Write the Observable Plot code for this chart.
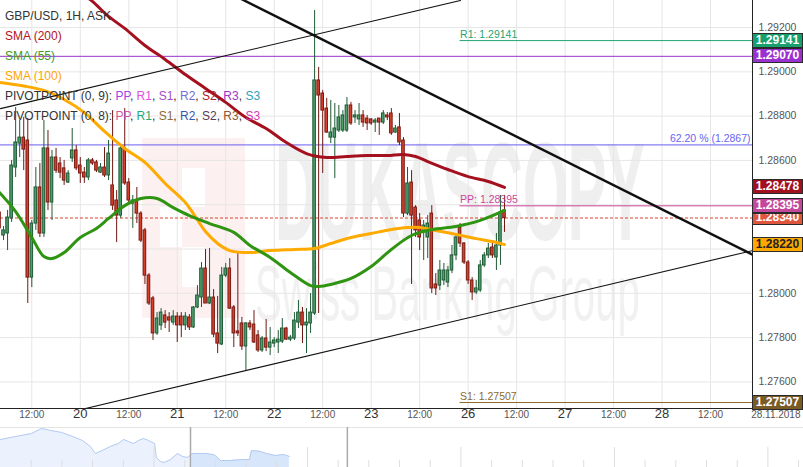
<!DOCTYPE html>
<html><head><meta charset="utf-8">
<script src="https://cdn.jsdelivr.net/npm/d3@7"></script>
<script src="https://cdn.jsdelivr.net/npm/@observablehq/plot@0.6"></script>
<style>
body{margin:0;background:#fff;font-family:"Liberation Sans",Arial,sans-serif;}
#wrap{position:relative;width:803px;height:467px;overflow:hidden;background:#fff;}
#wm,#main,#nav,#legend,#boxes{position:absolute;left:0;top:0;}
#wm{z-index:0}#main{z-index:1}#nav{z-index:1;top:425px}#legend{z-index:3}#boxes{z-index:4}
.lg{position:absolute;left:5px;font-size:12px;line-height:14px;white-space:nowrap;color:#333;}
.bx{position:absolute;left:752px;width:49px;height:13px;border:1px solid #2a2a2a;font-weight:bold;font-size:12px;line-height:13px;text-align:center;}
</style></head>
<body><div id="wrap">
<svg id="wm" width="803" height="425">
  <rect x="142" y="138" width="103" height="180" fill="#fcf0f0"/>
  <rect x="182" y="168" width="23" height="39" fill="#fff"/>
  <rect x="160" y="207" width="22" height="40" fill="#fff"/>
  <rect x="182" y="247" width="23" height="40" fill="#fff"/>
  <text x="275" y="240" font-size="140" font-weight="bold" fill="#efefef" textLength="370" lengthAdjust="spacingAndGlyphs" font-family="Liberation Sans, Arial">DUKASCOPY</text>
  <text x="255" y="320" font-size="78" fill="#f1f1f1" textLength="385" lengthAdjust="spacingAndGlyphs" font-family="Liberation Sans, Arial">Swiss Banking Group</text>
</svg>
<div id="main"></div><div id="nav"></div><div id="legend"></div><div id="boxes"></div>
</div>
<script>
// ---------- data ----------
const candleHour = d3.range(4, 130); // trading-hour index (0 = 19.11 00:00, weekend removed)
const openP = [1.28365,1.28261,1.28270,1.28338,1.28568,1.28676,1.28703,1.28690,1.28071,1.28315,
1.28478,1.28270,1.28654,1.28410,1.28613,1.28586,1.28564,1.28500,1.28609,1.28645,
1.28577,1.28545,1.28523,1.28600,1.28591,1.28545,1.28568,1.28532,1.28487,1.28419,
1.28351,1.28654,1.28500,1.28405,1.28419,1.28360,1.28284,1.28080,1.27977,1.27819,
1.27855,1.27900,1.27891,1.27868,1.27895,1.27895,1.27855,1.27891,1.27846,1.27936,
1.27981,1.28112,1.27954,1.27981,1.27819,1.27769,1.28080,1.28112,1.27936,1.27828,
1.27864,1.27760,1.27864,1.27859,1.27810,1.27742,1.27796,1.27755,1.27773,1.27778,
1.27782,1.27841,1.27791,1.27796,1.27868,1.27913,1.27855,1.27864,1.27909,1.28961,
1.28902,1.28834,1.28703,1.28703,1.28735,1.28735,1.28735,1.28848,1.28794,1.28785,
1.28803,1.28789,1.28785,1.28771,1.28789,1.28771,1.28803,1.28812,1.28726,1.28749,
1.28690,1.28360,1.28500,1.28387,1.28329,1.28275,1.28252,1.28360,1.28040,1.28035,
1.28058,1.28049,1.28103,1.28171,1.28297,1.28225,1.28139,1.28058,1.28004,1.28013,
1.28126,1.28171,1.28207,1.28162,1.28216,1.28374];
const closeP = [1.28293,1.28284,1.28342,1.28577,1.28681,1.28703,1.28649,1.28071,1.28315,1.28478,
1.28270,1.28654,1.28410,1.28613,1.28554,1.28545,1.28509,1.28541,1.28645,1.28564,
1.28541,1.28523,1.28600,1.28586,1.28554,1.28568,1.28532,1.28631,1.28396,1.28351,
1.28654,1.28496,1.28419,1.28419,1.28360,1.28238,1.28080,1.27954,1.27819,1.27886,
1.27913,1.27868,1.27877,1.27895,1.27855,1.27855,1.27895,1.27846,1.27936,1.27990,
1.28112,1.27954,1.27981,1.27814,1.27773,1.28080,1.28112,1.27931,1.27819,1.27819,
1.27760,1.27864,1.27846,1.27778,1.27742,1.27796,1.27755,1.27778,1.27787,1.27791,
1.27841,1.27791,1.27800,1.27877,1.27913,1.27855,1.27868,1.27913,1.28961,1.28893,
1.28825,1.28726,1.28726,1.28744,1.28794,1.28803,1.28848,1.28767,1.28803,1.28803,
1.28771,1.28767,1.28767,1.28780,1.28771,1.28812,1.28794,1.28722,1.28744,1.28681,
1.28360,1.28496,1.28351,1.28284,1.28252,1.28306,1.28315,1.28022,1.28022,1.28103,
1.28103,1.28103,1.28171,1.28252,1.28225,1.28139,1.28058,1.28004,1.28022,1.28126,
1.28171,1.28202,1.28171,1.28216,1.28365,1.28340];
const highP = [1.28396,1.28302,1.28374,1.28600,1.28839,1.28780,1.28794,1.28789,1.28329,1.28568,
1.28586,1.28780,1.28735,1.28645,1.28654,1.28613,1.28600,1.28554,1.28744,1.28667,
1.28613,1.28568,1.28609,1.28609,1.28600,1.28586,1.28658,1.28690,1.28825,1.28464,
1.28667,1.28834,1.28518,1.28442,1.28478,1.28369,1.28293,1.28089,1.27986,1.27913,
1.27931,1.27922,1.27913,1.27922,1.27913,1.27913,1.27913,1.27904,1.27940,1.28035,
1.28139,1.28198,1.28202,1.28017,1.27986,1.28117,1.28135,1.28157,1.27945,1.28180,
1.27891,1.27868,1.27877,1.27922,1.27832,1.27805,1.27882,1.27846,1.27800,1.27832,
1.27886,1.27846,1.27810,1.27913,1.27968,1.27936,1.27931,1.27999,1.29277,1.29020,
1.28916,1.28880,1.28871,1.28857,1.28848,1.28825,1.28884,1.28862,1.28825,1.28857,
1.28825,1.28803,1.28789,1.28789,1.28789,1.28825,1.28816,1.28834,1.28758,1.28812,
1.28703,1.28568,1.28554,1.28396,1.28360,1.28329,1.28351,1.28396,1.28089,1.28148,
1.28135,1.28121,1.28216,1.28270,1.28315,1.28229,1.28148,1.28071,1.28058,1.28148,
1.28184,1.28225,1.28238,1.28270,1.28442,1.28442];
const lowP = [1.28275,1.28238,1.28193,1.28320,1.28523,1.28613,1.28554,1.27954,1.28026,1.28284,
1.28252,1.28252,1.28374,1.28329,1.28541,1.28518,1.28487,1.28496,1.28591,1.28554,
1.28496,1.28496,1.28509,1.28577,1.28545,1.28541,1.28523,1.28509,1.28374,1.28229,
1.28338,1.28487,1.28405,1.28293,1.28315,1.28229,1.28040,1.27945,1.27787,1.27810,
1.27832,1.27841,1.27823,1.27855,1.27778,1.27800,1.27832,1.27832,1.27841,1.27931,
1.27936,1.27954,1.27949,1.27800,1.27728,1.27764,1.28071,1.27927,1.27755,1.27805,
1.27742,1.27651,1.27832,1.27773,1.27733,1.27733,1.27737,1.27719,1.27755,1.27728,
1.27773,1.27787,1.27782,1.27787,1.27841,1.27773,1.27728,1.27819,1.27900,1.27909,
1.28541,1.28722,1.28676,1.28518,1.28726,1.28726,1.28726,1.28758,1.28767,1.28758,
1.28749,1.28735,1.28758,1.28726,1.28713,1.28762,1.28780,1.28713,1.28722,1.28667,
1.28342,1.28351,1.28040,1.28252,1.28193,1.28148,1.28157,1.27999,1.27990,1.28013,
1.28035,1.28026,1.28089,1.28148,1.28207,1.28130,1.28040,1.27968,1.27995,1.28004,
1.28117,1.28157,1.28157,1.28103,1.28126,1.28275];

const sma200Hours = [25,27,31,35,40,45,50,55,60,65,70,75,80,85,90,95,100,104,107,110,115,120,125,129];
const sma200 = [1.29345,1.29318,1.29250,1.29196,1.29119,1.29056,1.28988,1.28925,1.28862,1.28794,1.28744,1.28681,1.28631,1.28613,1.28618,1.28622,1.28622,1.28627,1.28618,1.28595,1.28559,1.28527,1.28505,1.28478];
const sma100Hours = [4,10,15,20,25,30,35,40,45,50,55,58,61,66,71,77,82,86,91,96,101,105,108,112,117,122,126,129];
const sma100 = [1.28952,1.28936,1.28916,1.28875,1.28816,1.28731,1.28654,1.28591,1.28496,1.28410,1.28279,1.28225,1.28193,1.28184,1.28193,1.28198,1.28202,1.28225,1.28252,1.28270,1.28288,1.28297,1.28297,1.28284,1.28266,1.28247,1.28234,1.28220];
const sma55Hours = [4,8,12,15,17,20,24,28,31,35,39,43,47,51,56,62,66,71,76,81,83,86,91,96,101,106,111,117,123,129];
const sma55 = [1.28455,1.28369,1.28252,1.28166,1.28157,1.28184,1.28252,1.28293,1.28338,1.28396,1.28428,1.28428,1.28387,1.28351,1.28315,1.28275,1.28216,1.28162,1.28094,1.28035,1.28031,1.28040,1.28067,1.28121,1.28198,1.28261,1.28288,1.28302,1.28329,1.28374];

// trend lines: [hourStart, priceStart, hourEnd, priceEnd]
const trendThick = [60, 1.29364, 190.39, 1.28175];
const trendLower = [25.29, 1.27480, 190.39, 1.28193];
const trendUpper = [4.25, 1.28834, 118.1, 1.29322];

const pivotStartHour = 118;
const pivotR1 = 1.29141, pivotPP = 1.28395, pivotS1 = 1.27507;
const levelPurple = 1.29070, fib622 = 1.2867, lastPrice = 1.28340;

const priceTicks = [1.276,1.278,1.280,1.282,1.284,1.286,1.288,1.290,1.292];
const dayHours = [24,48,72,96,120,144,168];
const dayLabels = ["20","21","22","23","26","27","28"];
const halfDayHours = [12,36,60,84,108,132,156,180];

const boxValues = [1.29141,1.29070,1.28478,1.28220,1.27507,1.28340,1.28388,1.28395];
const boxLabels = ["1.29141","1.29070","1.28478","1.28220","1.27507","1.28340","1.28388","1.28395"];
const boxBg = ["#16a06c","#9b30d0","#a1101f","#ffa900","#7b5b25","#e0553d","#2e8b1f","#c3489b"];
const boxFg = ["#fff","#fff","#fff","#222","#fff","#fff","#fff","#fff"];

// navigator (overview) series
const navT = [0,0.33,1.01,1.34,1.63,1.99,2.35,2.67,2.93,3.09,3.32,3.58,3.84,4.01,4.17,4.33,4.50,4.66,4.82,5.02,5.08,5.21,5.34,5.54,5.77,5.93,6.09,6.25,6.51,6.68,6.91,7.00,7.17,7.49,7.85,8.11,8.18,8.47,8.66,8.96,9.22,9.41];
const navV = [1.3050,1.3075,1.3125,1.3188,1.3163,1.3138,1.3088,1.3038,1.2963,1.2875,1.2913,1.2963,1.3000,1.3050,1.3025,1.3000,1.3038,1.3063,1.3038,1.3000,1.2825,1.2775,1.2763,1.2800,1.2875,1.2838,1.2825,1.2875,1.2875,1.2875,1.2863,1.2850,1.2788,1.2788,1.2800,1.2800,1.2913,1.2900,1.2875,1.2850,1.2863,1.2838];
const navSel = [6.19, 11.30];

// ---------- build ----------
const xMin = 4.25, xMax = 190.39, yMin = 1.27480, yMax = 1.29322;
const candles = candleHour.map((h,i)=>({h, o:openP[i], c:closeP[i], hi:highP[i], lo:lowP[i], up: closeP[i] >= openP[i]}));
const series = (hs, vs) => hs.map((h,i)=>({h, v:vs[i]}));
const seg = a => [{h:a[0], v:a[1]}, {h:a[2], v:a[3]}];
const font = "Liberation Sans, Arial, sans-serif";

const main = Plot.plot({
  width: 803, height: 425,
  marginLeft: 0, marginRight: 51, marginTop: 0, marginBottom: 17,
  style: {background: "transparent", fontFamily: font, overflow: "visible"},
  x: {domain: [xMin, xMax], axis: null},
  y: {domain: [yMin, yMax], axis: null},
  color: {type: "identity"},
  marks: [
    Plot.ruleX([...halfDayHours, ...dayHours], {stroke: "#e6e6e6"}),
    Plot.ruleY(priceTicks, {stroke: "#e6e6e6"}),
    Plot.ruleY([fib622], {stroke: "#6b5ef2"}),
    Plot.ruleY([levelPurple], {stroke: "#9a33cc"}),
    Plot.ruleY([{y: pivotR1, a: pivotStartHour, b: xMax}], {y: "y", x1: "a", x2: "b", stroke: "#21a572"}),
    Plot.ruleY([{y: pivotPP, a: pivotStartHour, b: xMax}], {y: "y", x1: "a", x2: "b", stroke: "#cc4499"}),
    Plot.ruleY([{y: pivotS1, a: pivotStartHour, b: xMax}], {y: "y", x1: "a", x2: "b", stroke: "#8b6a2b"}),
    Plot.ruleY([lastPrice], {stroke: "#d9452f", strokeDasharray: "3,2"}),
    // candles
    Plot.ruleX(candles, {x: "h", y1: "lo", y2: "hi", stroke: d => d.up ? "#1e5b35" : "#6e1913"}),
    Plot.rect(candles, {x1: d => d.h - 0.32, x2: d => d.h + 0.32, y1: "o", y2: "c",
      fill: d => d.up ? "#4f9d6c" : "#d3402c", stroke: d => d.up ? "#1e5b35" : "#7a1a13", strokeWidth: 1}),
    // moving averages
    Plot.line(series(sma200Hours, sma200), {x: "h", y: "v", stroke: "#a5101e", strokeWidth: 3, curve: "catmull-rom", clip: true}),
    Plot.line(series(sma100Hours, sma100), {x: "h", y: "v", stroke: "#ffaa00", strokeWidth: 3, curve: "catmull-rom", clip: true}),
    Plot.line(series(sma55Hours, sma55), {x: "h", y: "v", stroke: "#2f9412", strokeWidth: 3, curve: "catmull-rom", clip: true}),
    // trend lines
    Plot.line(seg(trendThick), {x: "h", y: "v", stroke: "#111", strokeWidth: 2.4, clip: true}),
    Plot.line(seg(trendLower), {x: "h", y: "v", stroke: "#111", strokeWidth: 1.1, clip: true}),
    Plot.line(seg(trendUpper), {x: "h", y: "v", stroke: "#111", strokeWidth: 1.1, clip: true}),
    // level labels
    Plot.text([{h: pivotStartHour, v: pivotR1, t: "R1: 1.29141", c: "#21a572"},
               {h: pivotStartHour, v: pivotPP, t: "PP: 1.28395", c: "#c8459a"},
               {h: pivotStartHour, v: pivotS1, t: "S1: 1.27507", c: "#8b6a2b"}],
      {x: "h", y: "v", text: "t", fill: "c", textAnchor: "start", dy: -6, fontSize: 10.5}),
    Plot.text([{v: fib622, t: "62.20 % (1.2867)"}], {x: xMax, y: "v", text: "t", fill: "#6b62ee", textAnchor: "end", dx: -2, dy: -6, fontSize: 10.5}),
    // frame lines
    Plot.ruleX([xMax], {stroke: "#222"}),
    Plot.ruleY([yMin], {stroke: "#222"}),
    // axes
    Plot.text(priceTicks, {y: d => d, frameAnchor: "right", textAnchor: "start", dx: 6, text: d => d.toFixed(5), fill: "#555", fontSize: 10.5}),
    Plot.text(dayHours, {x: d => d, frameAnchor: "bottom", dy: 9, text: (d, i) => dayLabels[i], fill: "#333", fontSize: 13}),
    Plot.text(halfDayHours, {x: d => d, frameAnchor: "bottom", dy: 9, text: () => "12:00", fill: "#555", fontSize: 10}),
    Plot.text(["28.11.2018"], {frameAnchor: "bottom-right", dx: 48, dy: 9, textAnchor: "end", fill: "#555", fontSize: 10})
  ]
});
document.getElementById("main").appendChild(main);

// navigator
const nav = navT.map((t,i)=>({t, v:navV[i]}));
const navPlot = Plot.plot({
  width: 803, height: 42, marginTop: 2, marginBottom: 0, marginLeft: 0, marginRight: 0,
  style: {background: "transparent", overflow: "visible"},
  x: {domain: [0, 26.16], axis: null},
  y: {domain: [1.27, 1.32], axis: null},
  marks: [
    Plot.ruleY([1.32], {stroke: "#e4e4e4"}),
    Plot.areaY(nav, {x: "t", y1: 1.27, y2: "v", fill: "#ebf2fd"}),
    Plot.areaY(nav.filter(d => d.t >= navSel[0] && d.t <= navSel[1]), {x: "t", y1: 1.27, y2: "v", fill: "#d8e6fb"}),
    Plot.lineY(nav, {x: "t", y: "v", stroke: "#b3cbf2", strokeWidth: 1}),
    Plot.ruleX(d3.range(1, 27), {y1: 1.27, y2: d => d % 5 === 0 ? 1.295 : 1.2788, stroke: "#dedede"}),
    Plot.ruleX(navSel, {stroke: "#aaaaaa", strokeWidth: 1.5})
  ]
});
document.getElementById("nav").appendChild(navPlot);

// legend
const legendRows = [
  [["GBP/USD, 1H, ASK", "#333"]],
  [["SMA (200)", "#b5121b"]],
  [["SMA (55)", "#3c9b23"]],
  [["SMA (100)", "#ffa500"]],
  [["PIVOTPOINT (0, 9): ", "#333"], ["PP", "#a63fe6"], [", ", "#333"], ["R1", "#e04fe0"], [", ", "#333"], ["S1", "#a34cc7"], [", ", "#333"], ["R2", "#6f6fd6"], [", ", "#333"], ["S2", "#a8242a"], [", ", "#333"], ["R3", "#9c36c6"], [", ", "#333"], ["S3", "#2f9fc0"]],
  [["PIVOTPOINT (0, 8): ", "#333"], ["PP", "#d8559d"], [", ", "#333"], ["R1", "#25a874"], [", ", "#333"], ["S1", "#8c6b35"], [", ", "#333"], ["R2", "#3456b5"], [", ", "#333"], ["S2", "#5a3a5a"], [", ", "#333"], ["R3", "#8c5a2d"], [", ", "#333"], ["S3", "#d43cb4"]]
];
const legendY = [16, 36, 56, 76, 96, 116];
const lg = document.getElementById("legend");
legendRows.forEach((row, i) => {
  const div = document.createElement("div");
  div.className = "lg";
  div.style.top = (legendY[i] - 7) + "px";
  row.forEach(([t, c]) => { const s = document.createElement("span"); s.textContent = t; s.style.color = c; div.appendChild(s); });
  lg.appendChild(div);
});

// price label boxes on the right axis
const ys = main.scale("y");
const bx = document.getElementById("boxes");
boxValues.forEach((v, i) => {
  const d = document.createElement("div");
  d.className = "bx";
  d.style.top = (ys.apply(v) - 7.5) + "px";
  d.style.background = boxBg[i];
  d.style.color = boxFg[i];
  d.textContent = boxLabels[i];
  bx.appendChild(d);
});
</script>
</body></html>
